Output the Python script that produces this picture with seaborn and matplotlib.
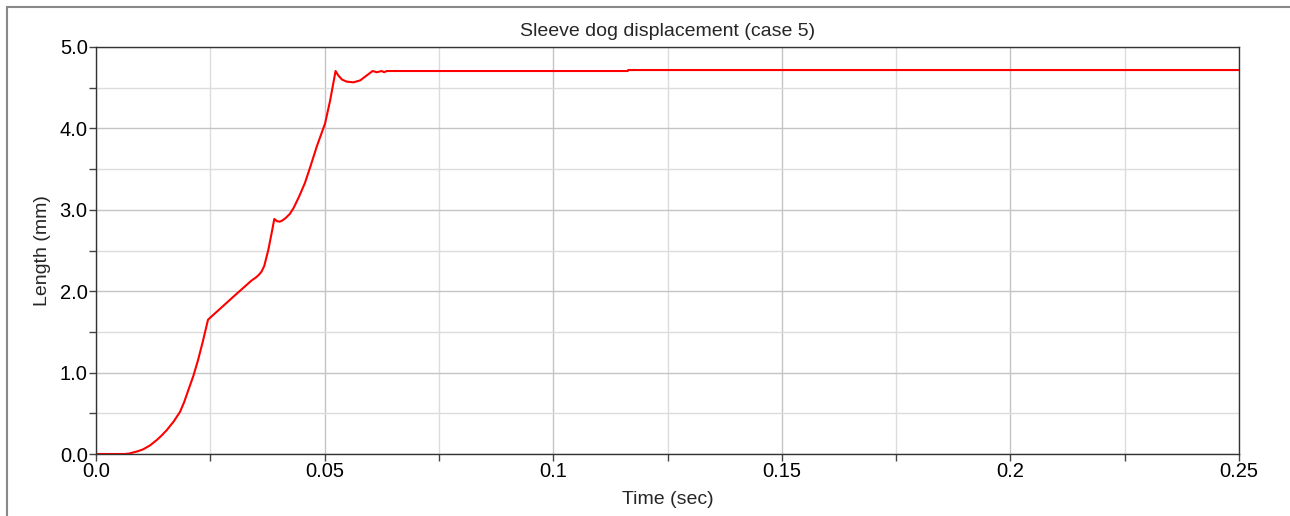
import matplotlib
matplotlib.use("Agg")
import matplotlib.pyplot as plt
import seaborn as sns
import pandas as pd
from matplotlib.lines import Line2D
from matplotlib.ticker import MultipleLocator, FixedLocator, FixedFormatter

# Data
time_s = [0.0, 0.0063, 0.0073, 0.0082, 0.0092, 0.0103, 0.0118, 0.0133, 0.0144, 0.0155,
          0.0170, 0.0184, 0.0193, 0.0202, 0.0213, 0.0223, 0.0234, 0.0245,
          0.0300, 0.0340, 0.0350, 0.0356, 0.0362, 0.0368, 0.0377, 0.0384, 0.0390,
          0.0396, 0.0402, 0.0408, 0.0415, 0.0424, 0.0432, 0.0444, 0.0457, 0.0470,
          0.0483, 0.0492, 0.0501, 0.0512, 0.0524, 0.0530, 0.0538, 0.0548, 0.0563,
          0.0578, 0.0592, 0.0605, 0.0614, 0.0625, 0.0630, 0.0636, 0.1163, 0.1164, 0.25]
length_mm = [0.0, 0.0, 0.006, 0.02, 0.035, 0.057, 0.105, 0.172, 0.23, 0.295,
             0.40, 0.52, 0.64, 0.786, 0.96, 1.15, 1.39, 1.65,
             1.93, 2.13, 2.17, 2.20, 2.24, 2.31, 2.51, 2.71, 2.887,
             2.86, 2.854, 2.87, 2.90, 2.95, 3.02, 3.16, 3.33, 3.55,
             3.78, 3.92, 4.06, 4.34, 4.705, 4.65, 4.60, 4.575, 4.566,
             4.59, 4.65, 4.705, 4.69, 4.705, 4.69, 4.705, 4.705, 4.717, 4.717]

title = "Sleeve dog displacement (case 5)"
xlabel = "Time (sec)"
ylabel = "Length (mm)"
xticks = [0.0, 0.05, 0.1, 0.15, 0.2, 0.25]
xtick_labels = ["0.0", "0.05", "0.1", "0.15", "0.2", "0.25"]
yticks = [0.0, 1.0, 2.0, 3.0, 4.0, 5.0]
ytick_labels = ["0.0", "1.0", "2.0", "3.0", "4.0", "5.0"]

df = pd.DataFrame({"t": time_s, "L": length_mm})

sns.set_style("white")
plt.rcParams["font.family"] = ["Liberation Sans", "DejaVu Sans"]

fig = plt.figure(figsize=(12.9, 5.16), dpi=100)
ax = fig.add_axes([96/1290, 1-454/516, (1239-96)/1290, (454-47)/516])

sns.lineplot(data=df, x="t", y="L", ax=ax, color="#ff0000", linewidth=1.5,
             estimator=None, sort=False)

ax.set_xlim(0, 0.25)
ax.set_ylim(0, 5.0)
ax.xaxis.set_major_locator(FixedLocator(xticks))
ax.xaxis.set_major_formatter(FixedFormatter(xtick_labels))
ax.yaxis.set_major_locator(FixedLocator(yticks))
ax.yaxis.set_major_formatter(FixedFormatter(ytick_labels))
ax.xaxis.set_minor_locator(MultipleLocator(0.025))
ax.yaxis.set_minor_locator(MultipleLocator(0.5))

ax.grid(which="major", color="#c4c4c4", linewidth=1.0)
ax.grid(which="minor", color="#dcdcdc", linewidth=1.0)
ax.set_axisbelow(True)

ax.tick_params(which="both", direction="out", length=5, width=1, color="#444444",
               labelsize=14.5, labelcolor="black", pad=1)
ax.tick_params(axis="both", which="both", bottom=True, left=True)
for s in ax.spines.values():
    s.set_color("#333333")
    s.set_linewidth(1.0)

ax.set_title(title, fontsize=14, pad=8)
ax.set_xlabel(xlabel, fontsize=14, labelpad=7)
ax.set_ylabel(ylabel, fontsize=14, labelpad=6)

# figure border (left and top)
fig.add_artist(Line2D([7/1290, 7/1290], [0, 1-7/516], transform=fig.transFigure,
                      color="#888888", linewidth=1.5))
fig.add_artist(Line2D([7/1290, 1], [1-7/516, 1-7/516], transform=fig.transFigure,
                      color="#888888", linewidth=1.5))

fig.savefig("out.png", dpi=100)
